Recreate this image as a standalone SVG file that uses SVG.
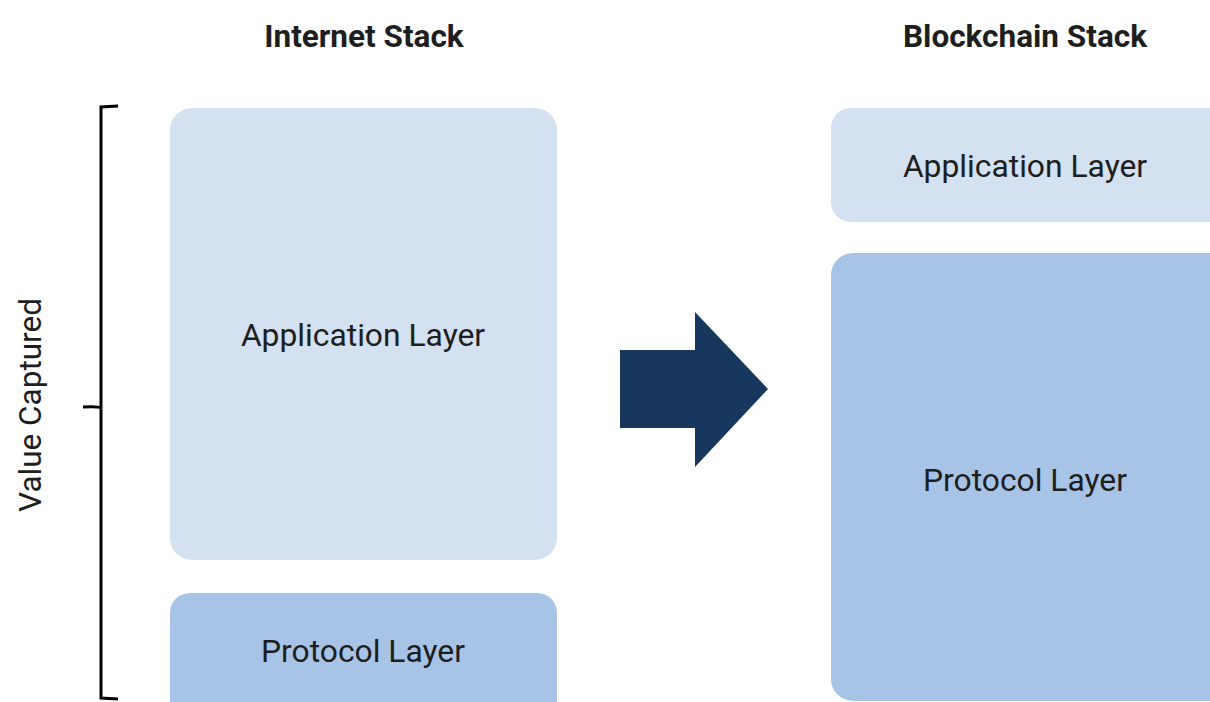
<svg xmlns="http://www.w3.org/2000/svg" width="1210" height="702" viewBox="0 0 1210 702">
<style>
.t{font-family:Roboto,"Liberation Sans",sans-serif;fill:#1e1e1e;text-anchor:middle}
.title{font-size:31.5px;font-weight:bold}
.lbl{font-size:31.8px}
.app{fill:#d3e1f1}
.proto{fill:#a7c4e6}
</style>
<rect width="1210" height="702" fill="#ffffff"/>
<text class="t title" x="364" y="47">Internet Stack</text>
<text class="t title" x="1025" y="47">Blockchain Stack</text>
<g id="bracket">
<path d="M118,106 L101,107 L101,698 L118,699 M101,408 Q98,406 83,407" fill="none" stroke="#000" stroke-width="3"/>
<text class="t" style="font-size:31.5px" transform="translate(41,405) rotate(-90)">Value Captured</text>
</g>
<g id="internet-app">
<rect class="app" x="170" y="108" width="387" height="452" rx="22"/>
<text class="t lbl" x="363" y="346">Application Layer</text>
</g>
<g id="internet-protocol">
<rect class="proto" x="170" y="593" width="387" height="130" rx="20"/>
<text class="t lbl" x="363" y="662">Protocol Layer</text>
</g>
<g id="connectors">
<polygon points="620,350 695,350 695,312 768,389 695,467 695,428 620,428" fill="#17375e"/>
</g>
<g id="blockchain-app">
<rect class="app" x="831" y="108" width="400" height="114" rx="20"/>
<text class="t lbl" x="1025" y="177">Application Layer</text>
</g>
<g id="blockchain-protocol">
<rect class="proto" x="831" y="253" width="400" height="448" rx="22"/>
<text class="t lbl" x="1025" y="491">Protocol Layer</text>
</g>
</svg>
